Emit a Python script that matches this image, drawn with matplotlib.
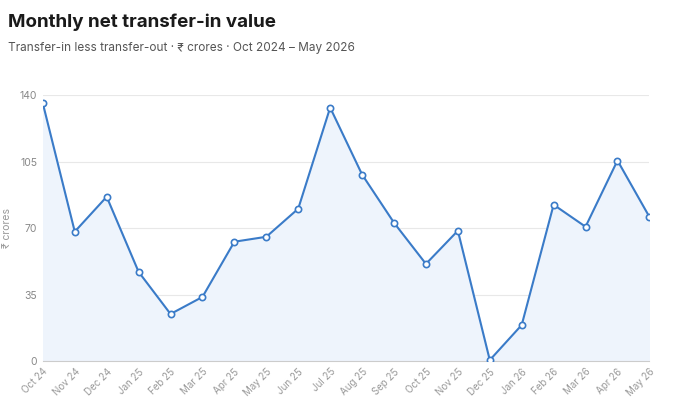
import matplotlib
matplotlib.use("Agg")
import matplotlib.pyplot as plt

months = ["Oct 24", "Nov 24", "Dec 24", "Jan 25", "Feb 25", "Mar 25", "Apr 25",
          "May 25", "Jun 25", "Jul 25", "Aug 25", "Sep 25", "Oct 25", "Nov 25",
          "Dec 25", "Jan 26", "Feb 26", "Mar 26", "Apr 26", "May 26"]
net_value = [135.8, 68.2, 86.6, 47.0, 24.8, 33.8, 62.9, 65.5, 80.3, 133.6,
             98.3, 72.9, 51.2, 68.7, 0.5, 19.0, 82.4, 70.8, 105.7, 76.0]
y_ticks = [0, 35, 70, 105, 140]

plt.rcParams["font.family"] = ["Inter", "DejaVu Sans"]

fig = plt.figure(figsize=(6.8, 4.15), dpi=100)
ax = fig.add_axes([0.063, 0.13, 0.892, 0.64])

x = list(range(len(months)))
line = "#3a7bc8"
ax.fill_between(x, net_value, 0, color="#eef4fc", zorder=1)
ax.plot(x, net_value, color=line, lw=1.5, zorder=3, marker="o", ms=4.5,
        mfc="white", mec=line, mew=1.2)

ax.set_xlim(0, len(months) - 1)
ax.set_ylim(0, 140)
ax.set_yticks(y_ticks)
ax.set_yticklabels([str(t) for t in y_ticks], fontsize=7.5, color="#888888")
ax.set_xticks(x)
ax.set_xticklabels(months, rotation=45, ha="right", rotation_mode="anchor",
                   fontsize=7, color="#999999")
ax.grid(axis="y", color="#e8e8e8", lw=0.8)
ax.set_axisbelow(True)
for s in ["top", "right", "left"]:
    ax.spines[s].set_visible(False)
ax.spines["bottom"].set_color("#cccccc")
ax.tick_params(length=0, pad=4)
ax.set_ylabel("₹ crores", fontsize=7.5, color="#999999", labelpad=6)

fig.text(0.012, 0.935, "Monthly net transfer-in value", fontsize=13.5,
         fontweight="bold", color="#1a1a1a")
fig.text(0.012, 0.878, "Transfer-in less transfer-out · ₹ crores · Oct 2024 – May 2026",
         fontsize=8.5, color="#555555")

fig.savefig("out.png", dpi=100)
